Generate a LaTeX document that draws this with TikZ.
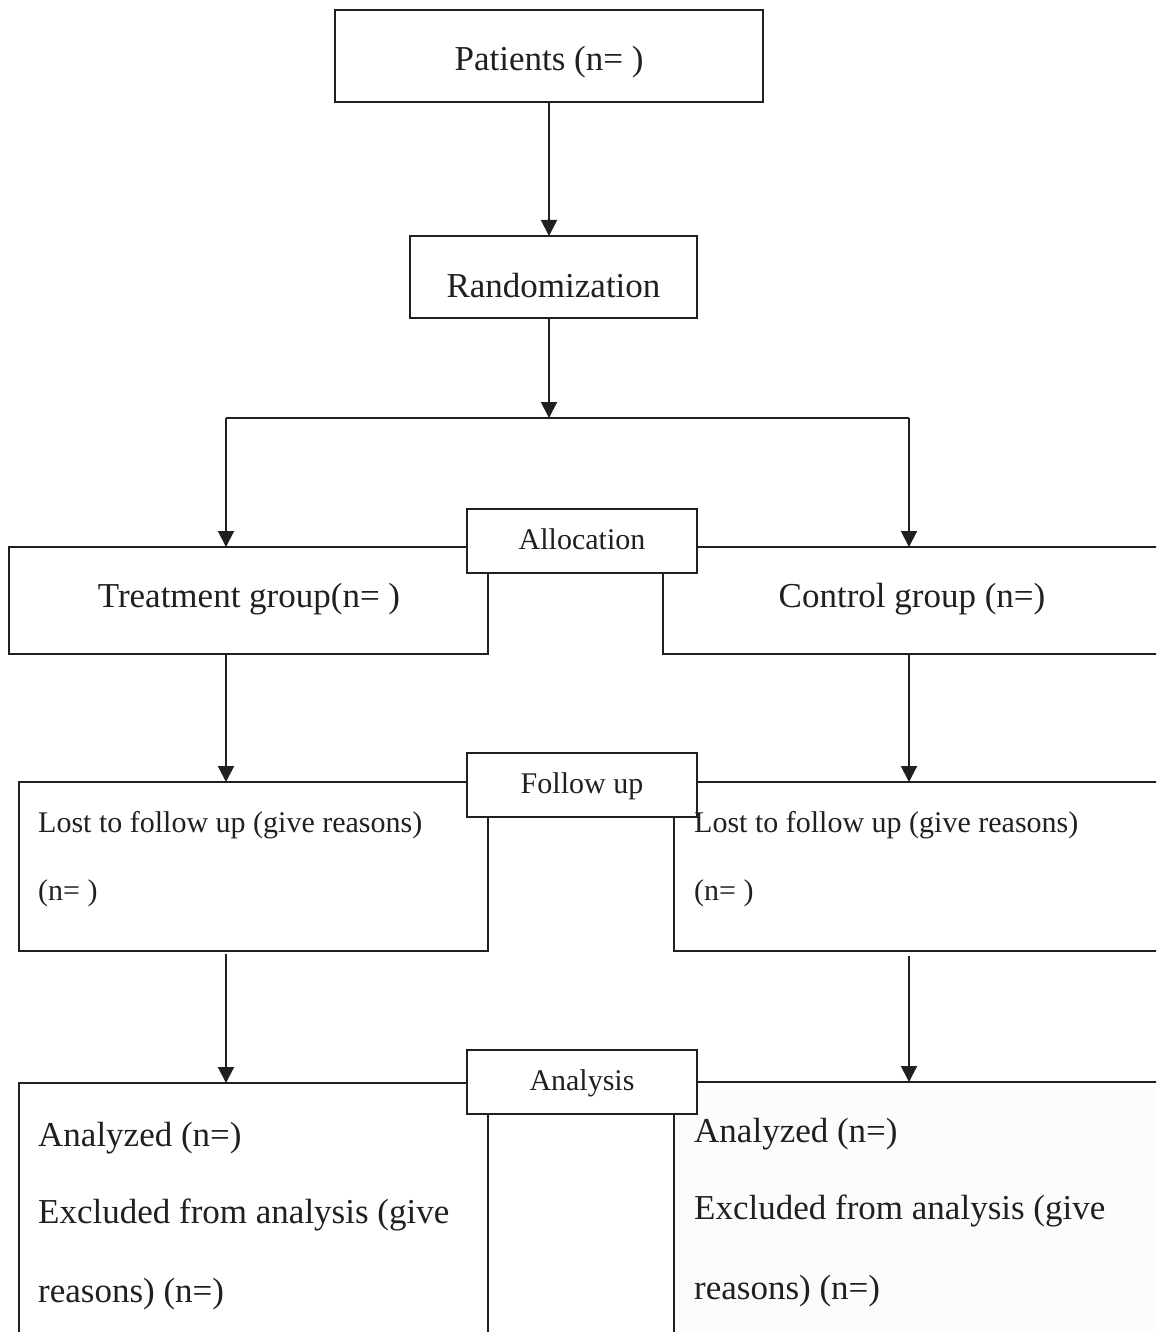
\documentclass[tikz,border=0pt]{standalone}
\usepackage{fontspec}
\setmainfont{Liberation Serif}
\usetikzlibrary{arrows.meta}
\definecolor{ink}{HTML}{231F20}
\definecolor{paleblue}{HTML}{FBFCFE}
\tikzset{
  box/.style={draw=ink, line width=2pt, inner sep=0pt, outer sep=0pt, fill=white},
  labbox/.style={box, minimum width=230pt, minimum height=64pt},
  arr/.style={draw=ink, line width=2pt, -{Triangle[length=16pt,width=16pt]}},
  ln/.style={draw=ink, line width=2pt},
  big/.style={text=ink, inner sep=0pt, font=\fontsize{35}{42}\selectfont},
  small/.style={text=ink, inner sep=0pt, font=\fontsize{30}{36}\selectfont},
}
\begin{document}
\begin{tikzpicture}[x=1pt,y=-1pt]
\clip (0,0) rectangle (1156,1332);
\fill[white] (0,0) rectangle (1156,1332);
% main boxes
\node[box, minimum width=428pt, minimum height=92pt] (pat) at (549,56) {};
\node[box, minimum width=287pt, minimum height=82pt] (rand) at (553.5,277) {};
\node[box, minimum width=479pt, minimum height=107pt] (treat) at (248.5,600.5) {};
\node[box, minimum width=507pt, minimum height=107pt] (ctrl) at (916.5,600.5) {};
\node[box, minimum width=469pt, minimum height=169pt] (lostl) at (253.5,866.5) {};
\node[box, minimum width=496pt, minimum height=169pt] (lostr) at (922,866.5) {};
\node[box, minimum width=469pt, minimum height=262pt] (anl) at (253.5,1214) {};
\node[box, fill=paleblue, minimum width=496pt, minimum height=263pt] (anr) at (922,1213.5) {};
% stage labels
\node[labbox] (alloc) at (582,541) {};
\node[labbox] (fup) at (582,785) {};
\node[labbox] (anal) at (582,1081.5) {};
% texts
\node[big, anchor=base] (tpat) at (549,71) {Patients (n= )};
\node[big, anchor=base] (trand) at (553.5,297) {Randomization};
\node[big, anchor=base] (ttreat) at (249,607) {Treatment group(n= )};
\node[big, anchor=base] (tctrl) at (912,607) {Control group (n=)};
\node[small, anchor=base] (talloc) at (582,549) {Allocation};
\node[small, anchor=base] (tfup) at (582,793) {Follow up};
\node[small, anchor=base] (tanal) at (582,1090) {Analysis};
\node[small, anchor=base west] (tl1) at (38,832) {Lost to follow up (give reasons)};
\node[small, anchor=base west] (tl2) at (38,900) {(n= )};
\node[small, anchor=base west] (tr1) at (694,832) {Lost to follow up (give reasons)};
\node[small, anchor=base west] (tr2) at (694,900) {(n= )};
\node[big, anchor=base west] (al1) at (38,1146) {Analyzed (n=)};
\node[big, anchor=base west] (al2) at (38,1223) {Excluded from analysis (give};
\node[big, anchor=base west] (al3) at (38,1302) {reasons) (n=)};
\node[big, anchor=base west] (ar1) at (694,1142) {Analyzed (n=)};
\node[big, anchor=base west] (ar2) at (694,1219) {Excluded from analysis (give};
\node[big, anchor=base west] (ar3) at (694,1299) {reasons) (n=)};
% connectors
\coordinate (split) at (549,418);
\coordinate (jl) at (226,418);
\coordinate (jr) at (909,418);
\draw[arr] (pat.south) -- (pat.south |- rand.north);
\draw[arr] (pat.south |- rand.south) -- (split);
\draw[ln] (jl) -- (jr);
\draw[arr] (jl) -- (jl |- treat.north);
\draw[arr] (jr) -- (jr |- ctrl.north);
\draw[arr] (jl |- treat.south) -- (jl |- lostl.north);
\draw[arr] (jr |- ctrl.south) -- (jr |- lostr.north);
\draw[arr, shorten <=3pt] (jl |- lostl.south) -- (jl |- anl.north);
\draw[arr, shorten <=5pt] (jr |- lostr.south) -- (jr |- anr.north);
\end{tikzpicture}
\end{document}
